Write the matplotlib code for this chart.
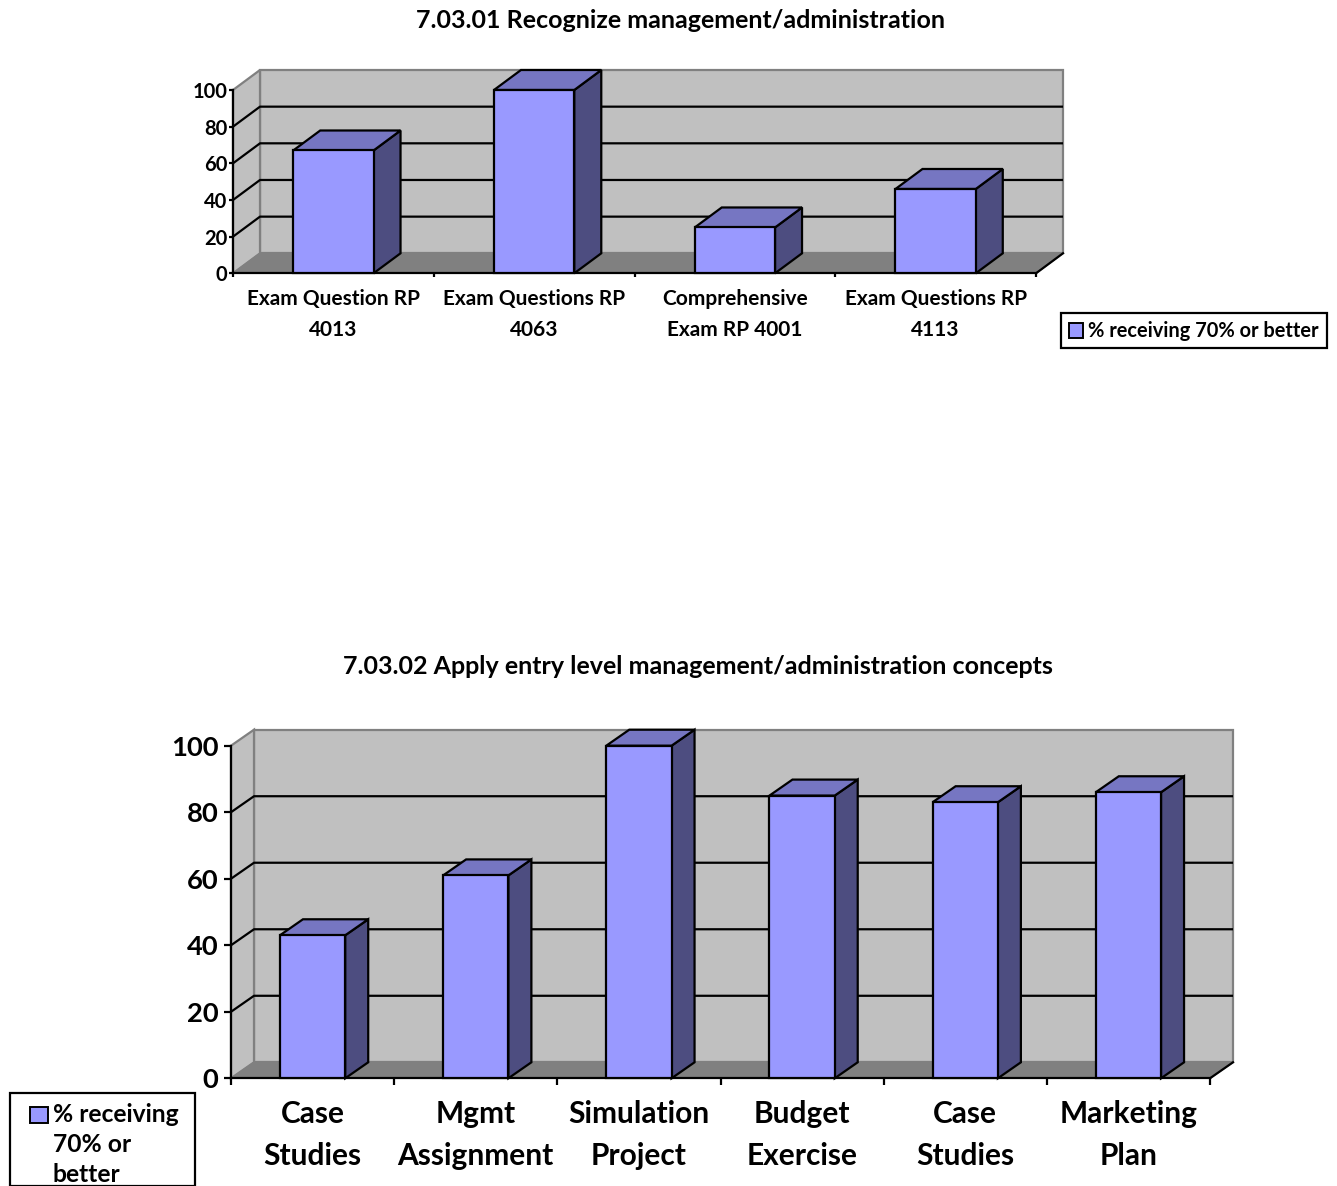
import matplotlib
matplotlib.use("Agg")
import matplotlib.pyplot as plt
from matplotlib.patches import Polygon, Rectangle

# ---- data ----
chart1_title = "7.03.01 Recognize management/administration"
chart1_categories = ["Exam Question RP\n4013", "Exam Questions RP\n4063",
                     "Comprehensive\nExam RP 4001", "Exam Questions RP\n4113"]
chart1_values = [67, 100, 25, 46]

chart2_title = "7.03.02 Apply entry level management/administration concepts"
chart2_categories = ["Case\nStudies", "Mgmt\nAssignment", "Simulation\nProject",
                     "Budget\nExercise", "Case\nStudies", "Marketing\nPlan"]
chart2_values = [43, 61, 100, 85, 83, 86]

y_ticks = [0, 20, 40, 60, 80, 100]
series_label = "% receiving 70% or better"

# ---- style ----
W, H, DPI = 1337, 1186, 100
FONT = "Lato"
FRONT = "#9999FF"
TOP = "#7676C2"
SIDE = "#4D4D80"
WALL = "#C0C0C0"
FLOOR = "#808080"
EDGE = "#808080"

plt.rcParams["font.family"] = [FONT, "DejaVu Sans"]
plt.rcParams["font.weight"] = "bold"

fig = plt.figure(figsize=(W / DPI, H / DPI), dpi=DPI)
fig.patch.set_facecolor("white")


def fx(px):
    return px / W


def fy(py):
    return 1 - py / H


def bar_chart_3d(left, right, y0, y100, depth, cats, vals,
                 tick_fs, cat_fs, tick_len, tick_pad, lab_first, lab_gap):
    ax = fig.add_axes([fx(left), fy(y0), fx(right) - fx(left), (y0 - y100) / H])
    n = len(cats)
    x0, x1 = -0.5, n - 0.5
    ax.set_xlim(x0, x1)
    ax.set_ylim(0, 100)
    ax.patch.set_visible(False)
    # depth offset converted from pixels to data units
    ddx = depth[0] * n / (right - left)
    ddy = depth[1] * 100 / (y0 - y100)

    # walls and floor
    ax.add_patch(Polygon([(x0 + ddx, ddy), (x1 + ddx, ddy), (x1 + ddx, 100 + ddy),
                          (x0 + ddx, 100 + ddy)], closed=True, fc=WALL, ec=EDGE,
                         lw=1.6, clip_on=False, zorder=1))
    ax.add_patch(Polygon([(x0, 0), (x0 + ddx, ddy), (x0 + ddx, 100 + ddy), (x0, 100)],
                         closed=True, fc=WALL, ec=EDGE, lw=1.6, clip_on=False, zorder=1))
    ax.add_patch(Polygon([(x0, 0), (x1, 0), (x1 + ddx, ddy), (x0 + ddx, ddy)],
                         closed=True, fc=FLOOR, ec=EDGE, lw=1.0, clip_on=False, zorder=1.5))

    # gridlines on side wall and back wall
    for v in y_ticks[1:-1]:
        ax.plot([x0, x0 + ddx, x1 + ddx], [v, v + ddy, v + ddy], color="black",
                lw=1.6, clip_on=False, zorder=2, solid_capstyle="butt")

    # axis lines
    ax.plot([x1, x1 + ddx], [0, ddy], color="black", lw=1.6, clip_on=False, zorder=2)
    for side in ["top", "right"]:
        ax.spines[side].set_visible(False)
    for side in ["left", "bottom"]:
        ax.spines[side].set_linewidth(1.6)
        ax.spines[side].set_zorder(2.2)
    ax.set_yticks(y_ticks)
    ax.set_yticklabels([str(t) for t in y_ticks], fontsize=tick_fs, fontweight="bold")
    ax.set_xticks([x0 + k for k in range(n + 1)])
    ax.set_xticklabels([])
    ax.tick_params(axis="both", direction="out", length=tick_len, width=1.6, color="black")
    ax.tick_params(axis="y", pad=tick_pad)

    # bars: front, top and side faces
    w = 0.2
    for i, v in enumerate(vals):
        ax.add_patch(Polygon([(i + w, 0), (i + w + ddx, ddy), (i + w + ddx, v + ddy),
                              (i + w, v)], closed=True, fc=SIDE, ec="black", lw=1.6,
                             joinstyle="miter", clip_on=False, zorder=3))
        ax.add_patch(Polygon([(i - w, v), (i + w, v), (i + w + ddx, v + ddy),
                              (i - w + ddx, v + ddy)], closed=True, fc=TOP, ec="black",
                             lw=1.6, joinstyle="miter", clip_on=False, zorder=3))
        ax.add_patch(Rectangle((i - w, 0), 2 * w, v, fc=FRONT, ec="black", lw=1.6,
                               joinstyle="miter", clip_on=False, zorder=3.5))

    # category labels
    for i, c in enumerate(cats):
        for k, line in enumerate(c.split("\n")):
            ax.annotate(line, xy=(i, 0), xycoords="data",
                        xytext=(0, -(lab_first + k * lab_gap)), textcoords="offset pixels",
                        ha="center", va="center", fontsize=cat_fs, fontweight="bold",
                        annotation_clip=False)
    return ax


# chart 1
fig.text(fx(680), fy(21), chart1_title, ha="center", va="center",
         fontsize=18, fontweight="bold")
bar_chart_3d(233, 1036, 273.3, 90, (27, 20), chart1_categories, chart1_values,
             tick_fs=14.5, cat_fs=15, tick_len=3, tick_pad=1, lab_first=26, lab_gap=31)

fig.add_artist(Rectangle((fx(1061), fy(348)), fx(1327) - fx(1061), fy(313) - fy(348),
                         transform=fig.transFigure, fc="white", ec="black", lw=1.6))
fig.add_artist(Rectangle((fx(1069), fy(338)), fx(1083) - fx(1069), fy(323) - fy(338),
                         transform=fig.transFigure, fc=FRONT, ec="black", lw=1.4))
fig.text(fx(1088), fy(331), series_label, ha="left", va="center",
         fontsize=14.4, fontweight="bold")

# chart 2
fig.text(fx(698), fy(666), chart2_title, ha="center", va="center",
         fontsize=18, fontweight="bold")
bar_chart_3d(231, 1210, 1078.3, 745.7, (23, 16), chart2_categories, chart2_values,
             tick_fs=19.7, cat_fs=21.5, tick_len=5, tick_pad=4, lab_first=36, lab_gap=42)

fig.add_artist(Rectangle((fx(10), fy(1186)), fx(195) - fx(10), fy(1093) - fy(1186),
                         transform=fig.transFigure, fc="white", ec="black", lw=1.6))
fig.add_artist(Rectangle((fx(30), fy(1123)), fx(48) - fx(30), fy(1107) - fy(1123),
                         transform=fig.transFigure, fc=FRONT, ec="black", lw=1.4))
for k, line in enumerate(["% receiving", "70% or", "better"]):
    fig.text(fx(53), fy(1115 + 30 * k), line, ha="left", va="center",
             fontsize=17.7, fontweight="bold")

fig.savefig("out.png", dpi=DPI)
